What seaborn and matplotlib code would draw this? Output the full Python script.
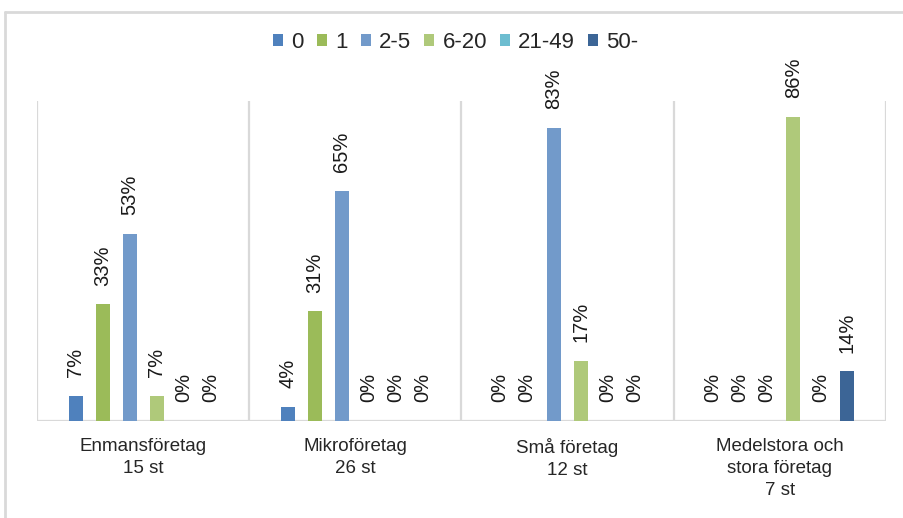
import matplotlib
matplotlib.use("Agg")
import matplotlib.pyplot as plt
from matplotlib.lines import Line2D
import seaborn as sns
import pandas as pd

# Company size groups (x axis) and staff-count bands (hue)
categories = ["Enmansföretag\n15 st", "Mikroföretag\n26 st", "Små företag\n12 st",
              "Medelstora och\nstora företag\n7 st"]
bands = ["0", "1", "2-5", "6-20", "21-49", "50-"]

# Share of answers per band, one list per company group
enmans = [0.07, 0.33, 0.53, 0.07, 0.00, 0.00]
mikro = [0.04, 0.31, 0.65, 0.00, 0.00, 0.00]
sma = [0.00, 0.00, 0.83, 0.17, 0.00, 0.00]
medel = [0.00, 0.00, 0.00, 0.86, 0.00, 0.14]

colors = ["#4F81BD", "#9BBB59", "#729ACA", "#AFC97A", "#6DBDD0", "#3C6596"]

rows = []
for cat, vals in zip(categories, [enmans, mikro, sma, medel]):
    for band, v in zip(bands, vals):
        rows.append({"grupp": cat, "anställda": band, "andel": v})
df = pd.DataFrame(rows)

sns.set_theme(style="white")
plt.rcParams["font.family"] = ["Liberation Sans", "DejaVu Sans"]

fig = plt.figure(figsize=(9.04, 5.18), dpi=100)
ax = fig.add_axes([37 / 904, 1 - 421 / 518, (886 - 37) / 904, (421 - 101) / 518])

sns.barplot(data=df, x="grupp", y="andel", hue="anställda", order=categories,
            hue_order=bands, palette=colors, width=0.764, gap=0.48,
            linewidth=0, saturation=1, ax=ax, legend=True, errorbar=None)

for cont in ax.containers:
    ax.bar_label(cont, labels=[f"{b.get_height():.0%}" for b in cont],
                 rotation=90, padding=13.5, fontsize=14.5, color="#1a1a1a")

ax.set_xlim(-0.5, 3.5)
ax.set_ylim(0, 0.905)
ax.set_xlabel("")
ax.set_ylabel("")
ax.set_yticks([])
for s in ax.spines.values():
    s.set_visible(False)

grey = "#D9D9D9"
for x in [-0.5, 0.5, 1.5, 2.5, 3.5]:
    ax.axvline(x, color=grey, lw=1.6, zorder=0)
ax.axhline(0, color=grey, lw=1.6, zorder=0)

ax.tick_params(axis="x", length=0, pad=12)
ax.set_xticks(range(len(categories)))
ax.set_xticklabels(categories, fontsize=13.5, color="#262626", linespacing=1.4)

handles, labels = ax.get_legend_handles_labels()
ax.get_legend().remove()
fig.legend(handles, labels, loc="center", bbox_to_anchor=(456 / 904, 1 - 42 / 518),
           ncol=6, frameon=False, fontsize=16, handlelength=0.45, handleheight=0.45,
           handletextpad=0.36, columnspacing=0.6, borderaxespad=0)

# outer chart frame (top and left edges)
fig.add_artist(Line2D([5 / 904, 1.0], [1 - 12 / 518, 1 - 12 / 518], color=grey, lw=2,
                      transform=fig.transFigure))
fig.add_artist(Line2D([5 / 904, 5 / 904], [0.0, 1 - 12 / 518], color=grey, lw=2,
                      transform=fig.transFigure))

fig.savefig("out.png", dpi=100)
